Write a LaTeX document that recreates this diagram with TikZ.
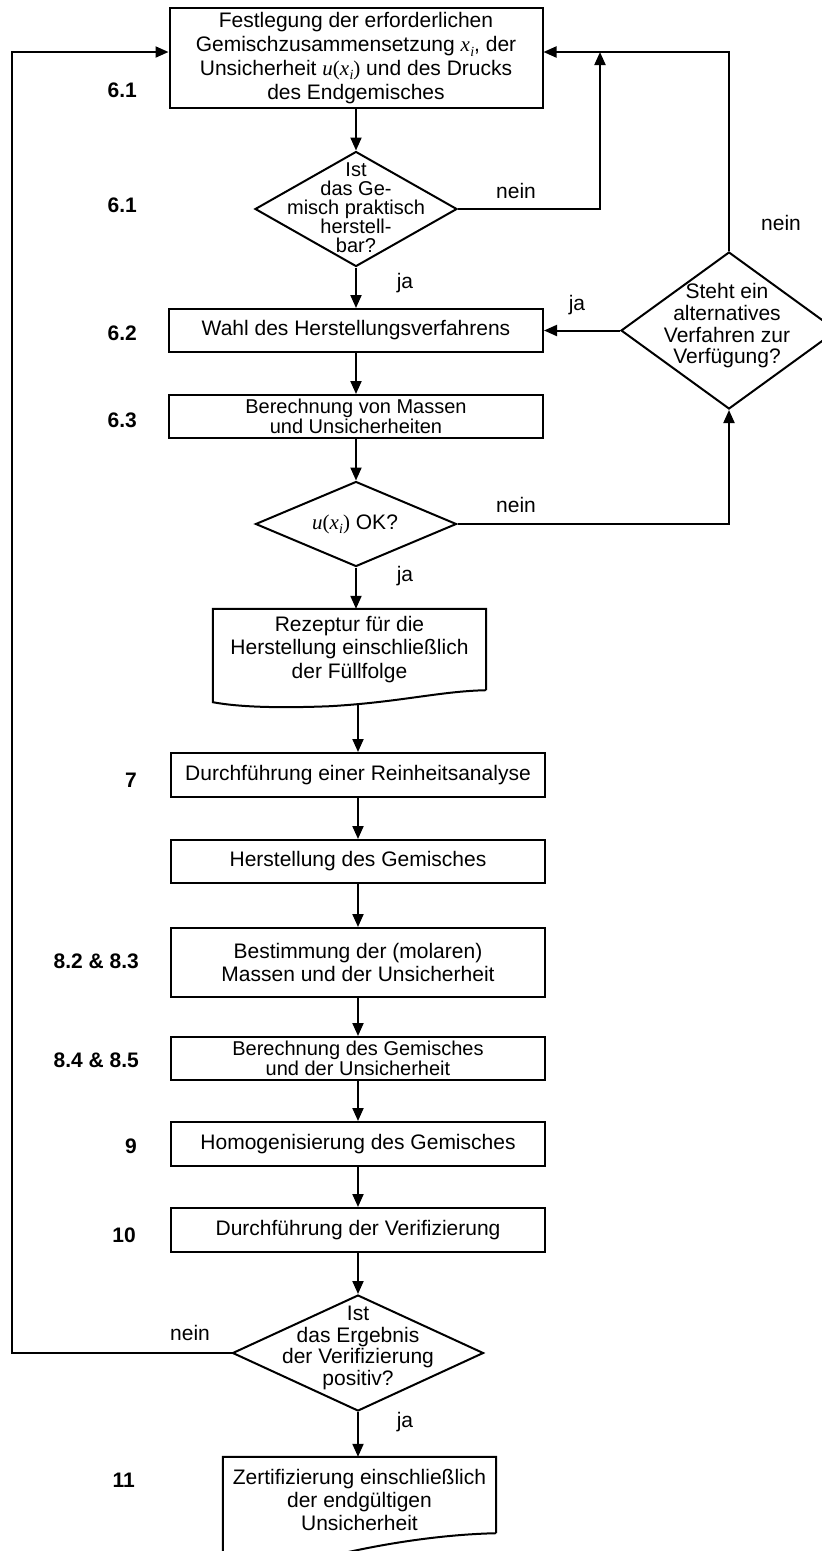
\documentclass[tikz,border=0pt]{standalone}
\usepackage{fontspec}
\setmainfont{Liberation Sans}
\newfontfamily\tmsf{Liberation Serif}
\usetikzlibrary{shapes.geometric,arrows.meta,calc}
\newcommand{\xvar}{{\tmsf\itshape x\kern0.3pt\raisebox{-4.5pt}{\fontsize{14}{14}\selectfont i}}}
\newcommand{\uxvar}{{\tmsf\itshape u\upshape(}\xvar{\tmsf)}}
\tikzset{
  base/.style={font=\fontsize{21}{23.5}\selectfont},
  proc/.style={draw, line width=2pt, inner sep=0pt, align=center, minimum width=374pt, base},
  dia/.style={draw, diamond, line width=2pt, inner sep=0pt},
  lab/.style={inner sep=0pt, base},
  stepnum/.style={inner sep=0pt, anchor=base east, font=\fontsize{21}{23.5}\selectfont\bfseries},
  arr/.style={-{Triangle[length=13pt,width=11pt]}, line width=2pt},
  outl/.style={line width=2pt}
}
\begin{document}
\begin{tikzpicture}[x=1pt,y=-1pt]
\useasboundingbox (0,0) rectangle (822,1551);
\clip (0,0) rectangle (822,1551);
\fill[white] (0,0) rectangle (822,1551);

% process boxes
\node[proc, minimum width=373pt, minimum height=100pt, font=\fontsize{21}{23.8}\selectfont] (b1) at (356,58)
  {Festlegung der erforderlichen\\Gemischzusammensetzung \xvar, der\\Unsicherheit \uxvar\ und des Drucks\\des Endgemisches};
\node[dia, minimum width=202pt, minimum height=115pt] (d1) at (356,209) {};
\node[lab, align=center, font=\fontsize{20}{19}\selectfont] (d1t) at (356,208) {Ist\\das Ge-\\misch praktisch\\herstell-\\bar?};
\node[proc, minimum height=43pt] (b2) at (356,330.5) {Wahl des Herstellungsverfahrens};
\node[proc, minimum height=43pt, font=\fontsize{20}{20}\selectfont] (b3) at (356,416.5) {Berechnung von Massen\\und Unsicherheiten};
\node[dia, minimum width=201pt, minimum height=85pt] (d2) at (356,524) {};
\node[lab] (d2t) at (355,524) {\uxvar\ OK?};
\node[dia, minimum width=216pt, minimum height=157pt] (d4) at (729,330.5) {};
\node[lab, align=center, font=\fontsize{21}{21.7}\selectfont] (d4t) at (727,326) {Steht ein\\alternatives\\Verfahren zur\\Verfügung?};

% document shape: Rezeptur
\node[lab, align=center, minimum width=273pt, minimum height=81pt] (rez) at (349.5,649.5)
  {Rezeptur für die\\Herstellung einschließlich\\der Füllfolge};
\draw[outl] (rez.south east) -- (rez.north east) -- (rez.north west) -- ($(rez.south west)+(0,12)$)
  .. controls ($(rez.south west)+(27,17)$) and ($(rez.south west)+(67,18)$) .. ($(rez.south west)+(117,16)$)
  .. controls ($(rez.south west)+(187,12)$) and ($(rez.south west)+(227,1)$) .. (rez.south east);
\coordinate (rezout) at (358,704);

\node[proc, minimum height=44pt] (b7) at (358,775) {Durchführung einer Reinheitsanalyse};
\node[proc, minimum height=43pt] (b8) at (358,861.5) {Herstellung des Gemisches};
\node[proc, minimum height=69pt, font=\fontsize{21}{23}\selectfont] (b9) at (358,962.5) {Bestimmung der (molaren)\\Massen und der Unsicherheit};
\node[proc, minimum height=43pt, font=\fontsize{20}{20}\selectfont] (b10) at (358,1058.5) {Berechnung des Gemisches\\und der Unsicherheit};
\node[proc, minimum height=44pt] (b11) at (358,1144) {Homogenisierung des Gemisches};
\node[proc, minimum height=44pt] (b12) at (358,1230) {Durchführung der Verifizierung};
\node[dia, minimum width=251pt, minimum height=116pt] (d3) at (358,1353) {};
\node[lab, align=center, font=\fontsize{21}{21.7}\selectfont] (d3t) at (358,1348) {Ist\\das Ergebnis\\der Verifizierung\\positiv?};

% document shape: final
\node[lab, minimum width=273pt, minimum height=76pt] (fin) at (359.5,1495) {};
\node[lab, align=center, font=\fontsize{21}{23}\selectfont] (fint) at (359.5,1500) {Zertifizierung einschließlich\\der endgültigen\\Unsicherheit};
\draw[outl] (fin.south east) -- (fin.north east) -- (fin.north west) -- ($(fin.south west)+(0,32)$)
  .. controls ($(fin.south west)+(37,37)$) and ($(fin.south west)+(87,27)$) .. ($(fin.south west)+(134,17)$)
  .. controls ($(fin.south west)+(177,8)$) and ($(fin.south west)+(227,1)$) .. (fin.south east);

% connectors
\coordinate (j1) at (600,52);
\coordinate (lft) at (11.5,1353);
\draw[arr] (b1.south) -- (d1.north);
\draw[arr] (d1.south) -- (b2.north);
\draw[arr] (d1.east) -| (j1);
\draw[arr] (d4.north) |- (j1 -| b1.east);
\draw[arr] (d4.west) -- (b2.east);
\draw[arr] (b2.south) -- (b3.north);
\draw[arr] (b3.south) -- (d2.north);
\draw[arr] (d2.east) -| (d4.south);
\draw[arr] (d2.south) -- (d2.south |- rez.north);
\draw[arr] (rezout) -- (b7.north);
\draw[arr] (b7.south) -- (b8.north);
\draw[arr] (b8.south) -- (b9.north);
\draw[arr] (b9.south) -- (b10.north);
\draw[arr] (b10.south) -- (b11.north);
\draw[arr] (b11.south) -- (b12.north);
\draw[arr] (b12.south) -- (d3.north);
\draw[arr] (d3.south) -- (d3.south |- fin.north);
\draw[arr] (d3.west) -- (lft) |- (j1 -| b1.west);

% branch labels
\node[lab, anchor=base] (n1) at (516,198) {nein};
\node[lab, anchor=base] (n2) at (781,230) {nein};
\node[lab, anchor=base] (y1) at (405,288) {ja};
\node[lab, anchor=base] (y2) at (577,310) {ja};
\node[lab, anchor=base] (n3) at (516,512) {nein};
\node[lab, anchor=base] (y3) at (405,581) {ja};
\node[lab, anchor=base] (n4) at (190,1340) {nein};
\node[lab, anchor=base] (y4) at (405,1427) {ja};

% step numbers
\node[stepnum] (s1) at (137,97) {6.1};
\node[stepnum] (s2) at (137,212) {6.1};
\node[stepnum] (s3) at (137,340) {6.2};
\node[stepnum] (s4) at (137,427) {6.3};
\node[stepnum] (s5) at (137,787) {7};
\node[stepnum] (s6) at (139,968) {8.2 \& 8.3};
\node[stepnum] (s7) at (139,1067) {8.4 \& 8.5};
\node[stepnum] (s8) at (137,1153) {9};
\node[stepnum] (s9) at (136,1242) {10};
\node[stepnum] (s10) at (135,1487) {11};
\end{tikzpicture}
\end{document}
